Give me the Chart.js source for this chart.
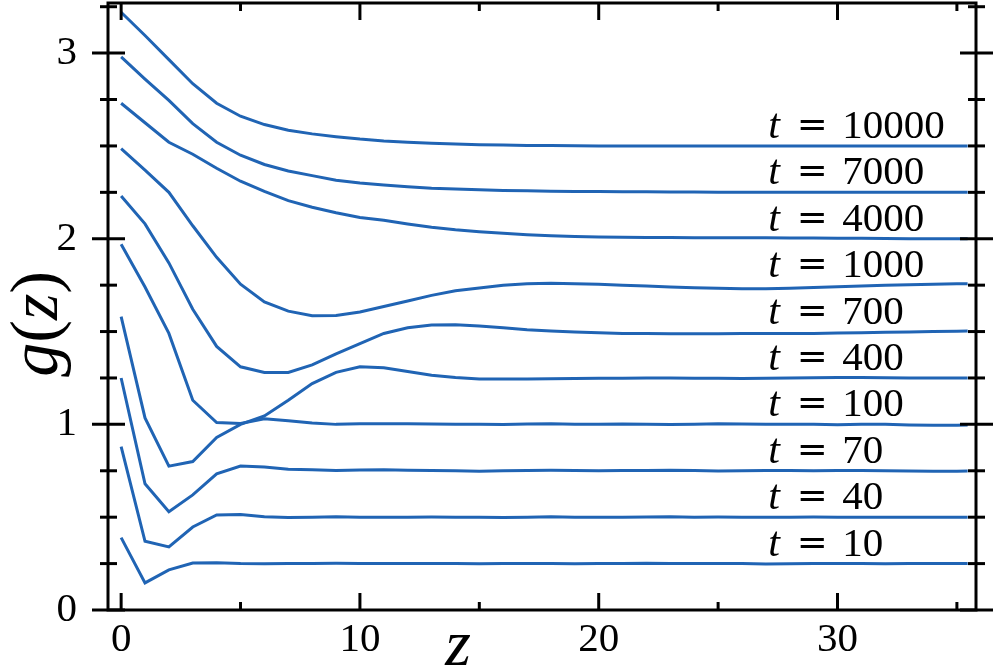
<!DOCTYPE html>
<html>
<head>
<meta charset="utf-8">
<script src="https://cdn.jsdelivr.net/npm/chart.js@4/dist/chart.umd.min.js"></script>
<style>
  html, body { margin: 0; padding: 0; background: #ffffff; }
  #wrap { width: 997px; height: 670px; position: relative; }
</style>
</head>
<body>
<div id="wrap"><canvas id="c" width="997" height="670"></canvas></div>
<script>
// ---------------- data ----------------
const zValues = [0,1,2,3,4,5,6,7,8,9,10,11,12,13,14,15,16,17,18,19,20,21,22,23,24,25,26,27,28,29,30,31,32,33,34,35,35.45];

const tLabels = ['10','40','70','100','400','700','1000','4000','7000','10000'];
const labelLevels = [0.25,0.5,0.75,1.0,1.25,1.5,1.75,2.0,2.25,2.5];

const g_t10 = [0.39,0.146,0.216,0.253,0.255,0.25,0.249,0.25,0.251,0.252,0.251,0.25,0.25,0.251,0.25,0.249,0.25,0.251,0.25,0.249,0.25,0.251,0.252,0.25,0.25,0.251,0.25,0.248,0.249,0.25,0.251,0.25,0.249,0.25,0.25,0.251,0.251];
const g_t40 = [0.88,0.37,0.34,0.447,0.512,0.514,0.503,0.498,0.499,0.502,0.50,0.499,0.50,0.501,0.50,0.499,0.498,0.50,0.502,0.50,0.499,0.50,0.501,0.502,0.50,0.501,0.50,0.499,0.50,0.501,0.50,0.499,0.50,0.50,0.50,0.50,0.50];
const g_t70 = [1.25,0.68,0.53,0.62,0.733,0.776,0.77,0.758,0.755,0.752,0.754,0.755,0.753,0.752,0.75,0.748,0.75,0.752,0.753,0.752,0.75,0.751,0.752,0.753,0.751,0.749,0.75,0.752,0.751,0.75,0.752,0.751,0.75,0.749,0.748,0.748,0.749];
const g_t100 = [1.97,1.74,1.49,1.13,1.01,1.005,1.03,1.02,1.008,1.0,1.003,1.004,1.003,1.002,1.0,1.001,0.999,1.002,1.003,1.001,1.0,1.002,1.0,0.999,1.0,1.003,1.002,1.0,1.001,1.0,0.998,1.0,1.001,0.997,0.995,0.995,0.996];
const g_t400 = [1.58,1.035,0.775,0.80,0.93,1.0,1.045,1.13,1.22,1.28,1.31,1.305,1.285,1.265,1.252,1.245,1.244,1.245,1.246,1.247,1.248,1.249,1.25,1.25,1.249,1.248,1.247,1.248,1.25,1.251,1.252,1.252,1.251,1.25,1.25,1.25,1.25];
const g_t700 = [2.23,2.08,1.87,1.62,1.42,1.31,1.28,1.28,1.32,1.38,1.435,1.49,1.52,1.535,1.537,1.53,1.52,1.51,1.503,1.497,1.493,1.49,1.489,1.488,1.488,1.488,1.489,1.489,1.49,1.49,1.492,1.494,1.496,1.498,1.50,1.502,1.503];
const g_t1000 = [2.485,2.37,2.25,2.07,1.90,1.755,1.66,1.61,1.585,1.587,1.605,1.635,1.665,1.695,1.72,1.735,1.75,1.757,1.76,1.758,1.755,1.75,1.745,1.74,1.736,1.733,1.73,1.73,1.733,1.738,1.742,1.746,1.75,1.752,1.755,1.757,1.758];
const g_t4000 = [2.73,2.625,2.52,2.455,2.38,2.31,2.255,2.205,2.17,2.14,2.115,2.10,2.08,2.062,2.048,2.038,2.03,2.022,2.016,2.012,2.01,2.008,2.007,2.007,2.006,2.006,2.005,2.005,2.004,2.004,2.003,2.002,2.001,2.0,2.0,2.0,2.0];
const g_t7000 = [2.98,2.86,2.745,2.62,2.52,2.45,2.40,2.365,2.34,2.315,2.30,2.29,2.28,2.272,2.268,2.264,2.26,2.258,2.256,2.255,2.254,2.253,2.253,2.252,2.252,2.251,2.251,2.251,2.25,2.25,2.25,2.25,2.25,2.25,2.25,2.25,2.25];
const g_t10000 = [3.22,3.095,2.965,2.835,2.73,2.66,2.615,2.585,2.565,2.55,2.537,2.527,2.52,2.515,2.51,2.507,2.505,2.503,2.502,2.501,2.5,2.5,2.5,2.5,2.5,2.5,2.499,2.499,2.499,2.5,2.5,2.5,2.5,2.5,2.5,2.5,2.5];

const seriesList = [g_t10, g_t40, g_t70, g_t100, g_t400, g_t700, g_t1000, g_t4000, g_t7000, g_t10000];

const xMajorTicks = [0, 10, 20, 30];
const xMinorTicks = [5, 15, 25, 35];
const yMajorTicks = [0, 1, 2, 3];
const yMinorTicks = [0.25,0.5,0.75,1.25,1.5,1.75,2.25,2.5,2.75,3.25];

const labelZ = 27.1;

// ---------------- styling ----------------
const LINE_COLOR = 'rgb(32,100,180)';
const SERIF = '"Liberation Serif", "DejaVu Serif", serif';

const datasets = seriesList.map((ys, i) => ({
  label: 't = ' + tLabels[i],
  data: zValues.map((z, k) => ({ x: z, y: ys[k] })),
  borderColor: LINE_COLOR,
  borderWidth: 3,
  pointRadius: 0,
  tension: 0,
  fill: false
}));

const framePlugin = {
  id: 'frame',
  afterDraw(chart) {
    const { ctx, chartArea: a, scales } = chart;
    const xs = scales.x, ys = scales.y;
    ctx.save();
    ctx.strokeStyle = '#000';
    ctx.lineWidth = 3;
    ctx.lineCap = 'butt';
    ctx.strokeRect(a.left, a.top, a.right - a.left, a.bottom - a.top);
    const line = (x1, y1, x2, y2) => { ctx.beginPath(); ctx.moveTo(x1, y1); ctx.lineTo(x2, y2); ctx.stroke(); };
    xMajorTicks.forEach(v => { const p = xs.getPixelForValue(v); line(p, a.bottom, p, a.bottom - 17); line(p, a.top, p, a.top + 17); });
    xMinorTicks.forEach(v => { const p = xs.getPixelForValue(v); line(p, a.bottom, p, a.bottom - 8); line(p, a.top, p, a.top + 8); });
    yMajorTicks.forEach(v => { const p = ys.getPixelForValue(v); line(a.left - 16, p, a.left + 17, p); line(a.right - 16, p, a.right + 17, p); });
    yMinorTicks.forEach(v => { const p = ys.getPixelForValue(v); line(a.left - 8, p, a.left + 9, p); line(a.right - 8, p, a.right + 9, p); });

    // curve labels
    ctx.fillStyle = '#000';
    ctx.textBaseline = 'alphabetic';
    labelLevels.forEach((lv, i) => {
      const x0 = xs.getPixelForValue(labelZ);
      const yb = ys.getPixelForValue(lv) - 8;
      ctx.textAlign = 'left';
      ctx.font = 'italic 42px ' + SERIF;
      ctx.fillText('t', x0, yb);
      ctx.font = '37px "DejaVu Serif"';
      ctx.textAlign = 'center';
      ctx.fillText('=', x0 + 44, yb - 1);
      ctx.font = '41px ' + SERIF;
      ctx.textAlign = 'left';
      ctx.fillText(tLabels[i], x0 + 74, yb);
    });

    // x title
    ctx.font = 'italic 66px ' + SERIF;
    ctx.textAlign = 'center';
    ctx.fillText('z', 458, 665);

    // y title g(z), rotated
    ctx.save();
    ctx.translate(57, 271);
    ctx.rotate(-Math.PI / 2);
    const parts = [['g', true], ['(', false], ['z', true], [')', false]];
    const widths = parts.map(([s, it]) => { ctx.font = (it ? 'italic ' : '') + '68px ' + SERIF; return ctx.measureText(s).width; });
    const W = widths.reduce((p, c) => p + c, 0);
    let cx = -W;
    ctx.textAlign = 'left';
    parts.forEach(([s, it], k) => {
      ctx.font = (it ? 'italic ' : '') + '68px ' + SERIF;
      ctx.fillText(s, cx, 0);
      cx += widths[k];
    });
    ctx.restore();
    ctx.restore();
  }
};

new Chart(document.getElementById('c'), {
  type: 'line',
  data: { datasets },
  options: {
    responsive: false,
    animation: false,
    devicePixelRatio: 1,
    layout: { padding: { top: 3, right: 21, left: 0, bottom: 0 } },
    plugins: { legend: { display: false }, tooltip: { enabled: false } },
    scales: {
      x: {
        type: 'linear',
        min: -0.55,
        max: 35.8,
        grid: { display: false, drawTicks: false },
        border: { display: false },
        afterBuildTicks: s => { s.ticks = xMajorTicks.map(v => ({ value: v })); },
        afterFit: s => { s.height = 60; s.paddingLeft = 0; s.paddingRight = 0; s.paddingTop = 0; s.paddingBottom = 0; },
        ticks: { autoSkip: false, maxRotation: 0, padding: 6, color: '#000', font: { family: SERIF, size: 41 }, callback: v => String(v) }
      },
      y: {
        type: 'linear',
        min: 0,
        max: 3.27,
        grid: { display: false, drawTicks: false },
        border: { display: false },
        afterBuildTicks: s => { s.ticks = yMajorTicks.map(v => ({ value: v })); },
        afterFit: s => { s.width = 108; s.paddingTop = 0; s.paddingBottom = 0; s.paddingLeft = 0; s.paddingRight = 0; },
        ticks: { autoSkip: false, padding: 31, color: '#000', font: { family: SERIF, size: 41 }, callback: v => String(v) }
      }
    }
  },
  plugins: [framePlugin]
});
</script>
</body>
</html>
